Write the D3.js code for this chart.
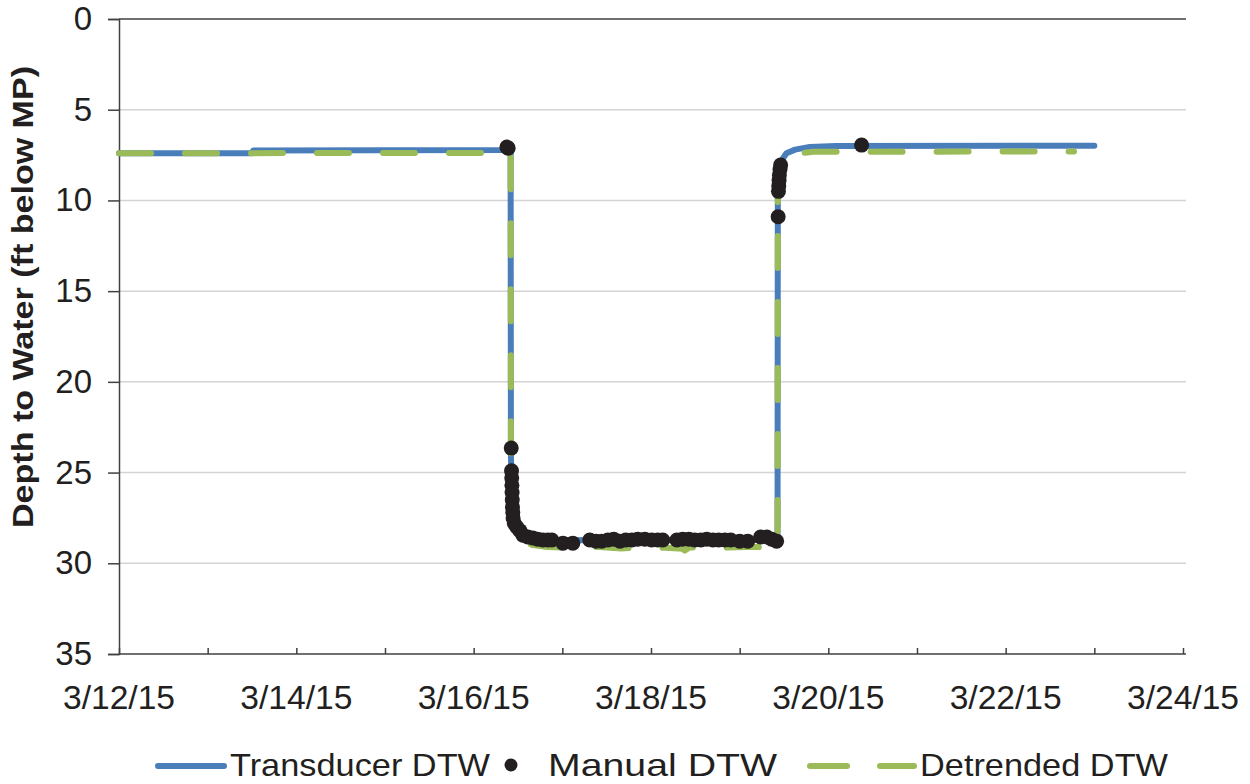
<!DOCTYPE html>
<html>
<head>
<meta charset="utf-8">
<title>Depth to Water</title>
<script src="https://cdn.jsdelivr.net/npm/d3@7"></script>
<style>
  body { margin: 0; background: #fff; }
  svg { display: block; font-family: "Liberation Sans", Arial, sans-serif; }
</style>
</head>
<body>
<script>
// chart data
var yTicks = [0, 5, 10, 15, 20, 25, 30, 35];
var xTickLabels = ["3/12/15", "3/14/15", "3/16/15", "3/18/15", "3/20/15", "3/22/15", "3/24/15"];

var transTimes = ["3/12/15 00:00", "3/13/15 12:00", "3/13/15 12:20", "3/16/15 09:00", "3/16/15 10:00",
    "3/16/15 10:05", "3/16/15 10:20", "3/16/15 10:45", "3/16/15 11:40", "3/16/15 13:00", "3/16/15 16:00",
    "3/16/15 20:00", "3/17/15 12:00", "3/18/15 00:00", "3/18/15 12:00", "3/19/15 00:00", "3/19/15 10:15",
    "3/19/15 10:20", "3/19/15 11:10", "3/19/15 12:40", "3/19/15 15:00", "3/19/15 19:00", "3/20/15 02:00",
    "3/23/15 00:00"];
var transValues = [7.40, 7.40, 7.25, 7.22, 7.14,
    24.0, 26.5, 27.6, 28.1, 28.4, 28.6,
    28.7, 28.75, 28.7, 28.72, 28.7, 28.72,
    8.5, 7.85, 7.4, 7.2, 7.05, 7.0,
    6.98];

var detrTimes = ["3/12/15 00:00", "3/16/15 10:00", "3/16/15 10:05", "3/16/15 10:20", "3/16/15 10:45",
    "3/16/15 11:40", "3/16/15 13:00", "3/16/15 16:00", "3/16/15 20:00", "3/17/15 04:00", "3/17/15 10:00",
    "3/17/15 16:00", "3/17/15 22:00", "3/18/15 04:00", "3/18/15 08:30", "3/18/15 09:10", "3/18/15 10:30",
    "3/18/15 18:00", "3/19/15 02:00", "3/19/15 10:15", "3/19/15 10:20", "3/19/15 11:30", "3/19/15 13:00",
    "3/19/15 16:00", "3/19/15 20:00", "3/22/15 18:30"];
var detrValues = [7.40, 7.38, 24.2, 26.8, 27.9,
    28.4, 28.8, 29.0, 29.1, 29.15, 29.1,
    29.18, 29.12, 29.15, 29.2, 29.3, 29.12,
    29.15, 29.1, 29.12, 8.8, 7.9, 7.55,
    7.4, 7.32, 7.3];

var manualTimes = ["3/16/15 09:00", "3/16/15 09:20", "3/16/15 10:10", "3/16/15 10:15", "3/16/15 10:18",
    "3/16/15 10:21", "3/16/15 10:24", "3/16/15 10:27", "3/16/15 10:30", "3/16/15 10:35", "3/16/15 10:40",
    "3/16/15 11:00", "3/16/15 11:40", "3/16/15 12:30", "3/16/15 13:20", "3/16/15 14:40", "3/16/15 16:00",
    "3/16/15 17:20", "3/16/15 18:45", "3/16/15 20:05", "3/16/15 21:10", "3/17/15 00:10", "3/17/15 02:50",
    "3/17/15 07:25", "3/17/15 09:05", "3/17/15 10:40", "3/17/15 12:20", "3/17/15 13:55", "3/17/15 15:35",
    "3/17/15 17:10", "3/17/15 18:50", "3/17/15 20:25", "3/17/15 22:20", "3/18/15 00:10", "3/18/15 01:50",
    "3/18/15 03:10", "3/18/15 07:00", "3/18/15 08:35", "3/18/15 10:15", "3/18/15 11:50", "3/18/15 13:30",
    "3/18/15 15:05", "3/18/15 16:45", "3/18/15 18:20", "3/18/15 20:00", "3/18/15 21:35", "3/19/15 00:00",
    "3/19/15 02:10", "3/19/15 05:40", "3/19/15 07:20", "3/19/15 08:40", "3/19/15 10:00", "3/19/15 10:25",
    "3/19/15 10:30", "3/19/15 10:35", "3/19/15 10:40", "3/19/15 10:45", "3/19/15 10:55", "3/19/15 11:05",
    "3/20/15 09:00"];
var manualValues = [7.06, 7.12, 23.65, 24.9, 25.3,
    25.7, 26.1, 26.5, 26.9, 27.2, 27.5,
    27.8, 28.0, 28.2, 28.45, 28.55, 28.6,
    28.67, 28.72, 28.72, 28.72, 28.89, 28.89,
    28.72, 28.78, 28.78, 28.72, 28.67, 28.78,
    28.72, 28.72, 28.67, 28.67, 28.72, 28.72,
    28.72, 28.72, 28.67, 28.67, 28.72, 28.72,
    28.67, 28.72, 28.72, 28.72, 28.72, 28.78,
    28.78, 28.55, 28.55, 28.67, 28.78, 10.9,
    9.5, 9.2, 8.9, 8.6, 8.3, 8.05,
    6.95];

var width = 1250, height = 784;
var blue = "#4a7ebb", green = "#9bbb59", dark = "#231f20", axisCol = "#404040";

var parse = d3.timeParse("%m/%d/%y %H:%M");
var parseDay = d3.timeParse("%m/%d/%y");

var svg = d3.select("body").append("svg")
    .attr("width", width)
    .attr("height", height);

var x = d3.scaleTime()
    .domain([parseDay("3/12/15"), parseDay("3/24/15")])
    .range([119, 1183]);
var y = d3.scaleLinear()
    .domain([0, 35])
    .range([19, 654]);

// gridlines
svg.append("g").selectAll("line")
    .data(yTicks.filter(function (d) { return d > 0 && d < 35; }))
    .enter().append("line")
    .attr("x1", 119).attr("x2", 1186)
    .attr("y1", function (d) { return y(d); })
    .attr("y2", function (d) { return y(d); })
    .attr("stroke", "#d4d4d4")
    .attr("stroke-width", 1.5);

// top border line
svg.append("line")
    .attr("x1", 119).attr("x2", 1186)
    .attr("y1", y(0)).attr("y2", y(0))
    .attr("stroke", axisCol).attr("stroke-width", 1.5);

// y axis
var yAxis = svg.append("g")
    .attr("transform", "translate(119,0)")
    .call(d3.axisLeft(y).tickValues(yTicks).tickSize(11).tickPadding(16));
yAxis.select(".domain").attr("stroke", axisCol).attr("stroke-width", 1.5);
yAxis.selectAll(".tick line").attr("stroke", axisCol).attr("stroke-width", 1.5);
yAxis.selectAll(".tick text")
    .attr("font-family", "Liberation Sans, Arial, sans-serif")
    .attr("font-size", 33)
    .attr("fill", dark);

// x axis: day ticks pointing up, labels every other day
var dayTicks = d3.timeDay.range(parseDay("3/12/15"), d3.timeDay.offset(parseDay("3/24/15"), 1));
var xAxis = svg.append("g")
    .attr("transform", "translate(0," + y(35) + ")")
    .call(d3.axisBottom(x).tickValues(dayTicks).tickSize(-6).tickFormat(""));
xAxis.select(".domain").attr("stroke", axisCol).attr("stroke-width", 1.5)
    .attr("d", "M119,0H1186");
xAxis.selectAll(".tick line").attr("stroke", axisCol).attr("stroke-width", 1.5);

svg.append("g").selectAll("text")
    .data(xTickLabels)
    .enter().append("text")
    .attr("x", function (d) { return x(parseDay(d)); })
    .attr("y", 709)
    .attr("text-anchor", "middle")
    .attr("font-size", 33)
    .attr("fill", dark)
    .attr("textLength", 112)
    .attr("lengthAdjust", "spacingAndGlyphs")
    .text(function (d) { return d; });

// y title
svg.append("text")
    .attr("transform", "translate(33,297) rotate(-90)")
    .attr("text-anchor", "middle")
    .attr("font-weight", "bold")
    .attr("font-size", 30)
    .attr("fill", dark)
    .attr("textLength", 462)
    .attr("lengthAdjust", "spacingAndGlyphs")
    .text("Depth to Water (ft below MP)");

var line = d3.line()
    .x(function (d) { return x(d.t); })
    .y(function (d) { return y(d.v); });

var trans = transTimes.map(function (t, i) { return { t: parse(t), v: transValues[i] }; });
var detr = detrTimes.map(function (t, i) { return { t: parse(t), v: detrValues[i] }; });
var manual = manualTimes.map(function (t, i) { return { t: parse(t), v: manualValues[i] }; });

svg.append("path")
    .datum(trans)
    .attr("d", line)
    .attr("fill", "none")
    .attr("stroke", blue)
    .attr("stroke-width", 6)
    .attr("stroke-linecap", "round")
    .attr("stroke-linejoin", "round");

svg.append("path")
    .datum(detr)
    .attr("d", line)
    .attr("fill", "none")
    .attr("stroke", green)
    .attr("stroke-width", 6)
    .attr("stroke-dasharray", "32,34")
    .attr("stroke-linecap", "round")
    .attr("stroke-linejoin", "round");

svg.append("g").selectAll("circle")
    .data(manual)
    .enter().append("circle")
    .attr("cx", function (d) { return x(d.t); })
    .attr("cy", function (d) { return y(d.v); })
    .attr("r", 7.5)
    .attr("fill", dark);

// legend
var legend = svg.append("g");
legend.append("line")
    .attr("x1", 158).attr("x2", 224).attr("y1", 766).attr("y2", 766)
    .attr("stroke", blue).attr("stroke-width", 6).attr("stroke-linecap", "round");
legend.append("text")
    .attr("x", 230).attr("y", 776)
    .attr("font-size", 32).attr("fill", dark)
    .attr("textLength", 260).attr("lengthAdjust", "spacingAndGlyphs")
    .text("Transducer DTW");
legend.append("circle")
    .attr("cx", 511).attr("cy", 765).attr("r", 6.5).attr("fill", dark);
legend.append("text")
    .attr("x", 548).attr("y", 776)
    .attr("font-size", 32).attr("fill", dark)
    .attr("textLength", 229).attr("lengthAdjust", "spacingAndGlyphs")
    .text("Manual DTW");
legend.append("line")
    .attr("x1", 810).attr("x2", 847).attr("y1", 766).attr("y2", 766)
    .attr("stroke", green).attr("stroke-width", 6).attr("stroke-linecap", "round");
legend.append("line")
    .attr("x1", 880).attr("x2", 914).attr("y1", 766).attr("y2", 766)
    .attr("stroke", green).attr("stroke-width", 6).attr("stroke-linecap", "round");
legend.append("text")
    .attr("x", 920).attr("y", 776)
    .attr("font-size", 32).attr("fill", dark)
    .attr("textLength", 248).attr("lengthAdjust", "spacingAndGlyphs")
    .text("Detrended DTW");
</script>
</body>
</html>
